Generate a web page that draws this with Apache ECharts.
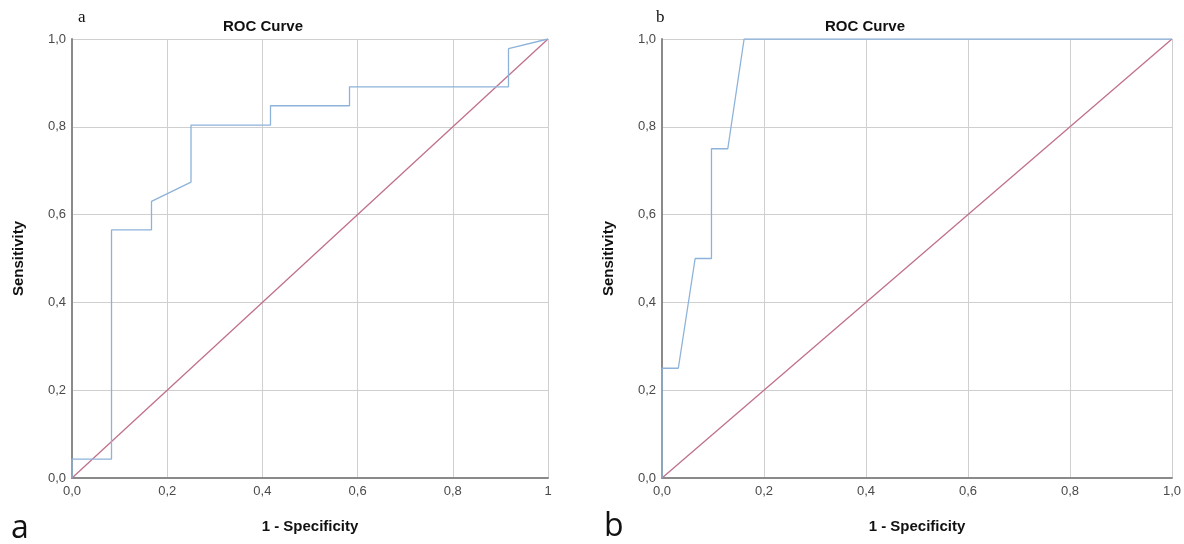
<!DOCTYPE html>
<html>
<head>
<meta charset="utf-8">
<title>ROC Curves</title>
<script src="https://cdn.jsdelivr.net/npm/echarts@6/dist/echarts.min.js"></script>
<style>
  html, body { margin: 0; padding: 0; background: #fff; }
  #chart { width: 1184px; height: 544px; }
</style>
</head>
<body>
<div id="chart"></div>
<script>
// panel a: ROC points (1 - specificity, sensitivity)
const fprA = [0, 0, 0.083, 0.083, 0.167, 0.167, 0.25, 0.25, 0.417, 0.417, 0.583, 0.583, 0.917, 0.917, 1]
const tprA = [0, 0.043, 0.043, 0.565, 0.565, 0.63, 0.674, 0.804, 0.804, 0.848, 0.848, 0.891, 0.891, 0.978, 1]

// panel b
const fprB = [0, 0, 0.032, 0.065, 0.097, 0.097, 0.129, 0.161, 1]
const tprB = [0, 0.25, 0.25, 0.5, 0.5, 0.75, 0.75, 1, 1]

// reference line
const diagX = [0, 1]
const diagY = [0, 1]

const rocColor = '#8db3da'
const diagColor = '#c0708a'
const gridColor = '#cfcfcf'
const axisColor = '#8a8a8a'
const labelColor = '#4a4a4a'

const pairs = (xs, ys) => xs.map((x, i) => [x, ys[i]])
const comma = (v) => v.toFixed(1).replace('.', ',')

function xAxisFor(gridIndex, lastLabel) {
  return {
    type: 'value',
    gridIndex,
    min: 0,
    max: 1,
    interval: 0.2,
    name: '1 - Specificity',
    nameLocation: 'middle',
    nameGap: 41,
    nameTextStyle: { fontFamily: 'Liberation Sans', fontWeight: 'bold', fontSize: 15, color: '#111' },
    axisLine: { show: true, lineStyle: { color: axisColor, width: 2 } },
    axisTick: { show: false },
    axisLabel: {
      color: labelColor,
      fontFamily: 'Liberation Sans',
      fontSize: 13,
      margin: 7,
      formatter: (v) => (v === 1 ? lastLabel : comma(v))
    },
    splitLine: { show: true, lineStyle: { color: gridColor, width: 1 } }
  }
}

function yAxisFor(gridIndex) {
  return {
    type: 'value',
    gridIndex,
    min: 0,
    max: 1,
    interval: 0.2,
    name: 'Sensitivity',
    nameLocation: 'middle',
    nameGap: 46,
    nameTextStyle: { fontFamily: 'Liberation Sans', fontWeight: 'bold', fontSize: 15, color: '#111' },
    axisLine: { show: true, lineStyle: { color: axisColor, width: 2 } },
    axisTick: { show: false },
    axisLabel: {
      color: labelColor,
      fontFamily: 'Liberation Sans',
      fontSize: 13,
      margin: 6,
      formatter: (v) => comma(v)
    },
    splitLine: { show: true, lineStyle: { color: gridColor, width: 1 } }
  }
}

function line(idx, xs, ys, color) {
  return {
    type: 'line',
    xAxisIndex: idx,
    yAxisIndex: idx,
    data: pairs(xs, ys),
    showSymbol: false,
    silent: true,
    lineStyle: { color, width: 1.3 },
    animation: false
  }
}

const chart = echarts.init(document.getElementById('chart'))

const titleStyle = { fontFamily: 'Liberation Sans', fontWeight: 'bold', fontSize: 15, color: '#111' }

chart.setOption({
  backgroundColor: '#fff',
  animation: false,
  title: [
    { text: 'ROC Curve', left: 218, top: 14, textStyle: titleStyle },
    { text: 'ROC Curve', left: 820, top: 14, textStyle: titleStyle },
    { text: 'a', left: 73, top: 4, textStyle: { fontFamily: 'Liberation Serif', fontWeight: 'normal', fontSize: 17, color: '#111' } },
    { text: 'b', left: 651, top: 4, textStyle: { fontFamily: 'Liberation Serif', fontWeight: 'normal', fontSize: 17, color: '#111' } },
    { text: 'a', left: 6, top: 508, textStyle: { fontFamily: 'Open Sans', fontWeight: 'normal', fontSize: 32, color: '#111' } },
    { text: 'b', left: 599, top: 506, textStyle: { fontFamily: 'Open Sans', fontWeight: 'normal', fontSize: 32, color: '#111' } }
  ],
  grid: [
    { left: 72, top: 39, width: 476, height: 439 },
    { left: 662, top: 39, width: 512, height: 439 }
  ],
  xAxis: [xAxisFor(0, '1'), xAxisFor(1, '1,0')],
  yAxis: [yAxisFor(0), yAxisFor(1)],
  series: [
    line(0, diagX, diagY, diagColor),
    line(0, fprA, tprA, rocColor),
    line(1, diagX, diagY, diagColor),
    line(1, fprB, tprB, rocColor)
  ]
})
</script>
</body>
</html>
